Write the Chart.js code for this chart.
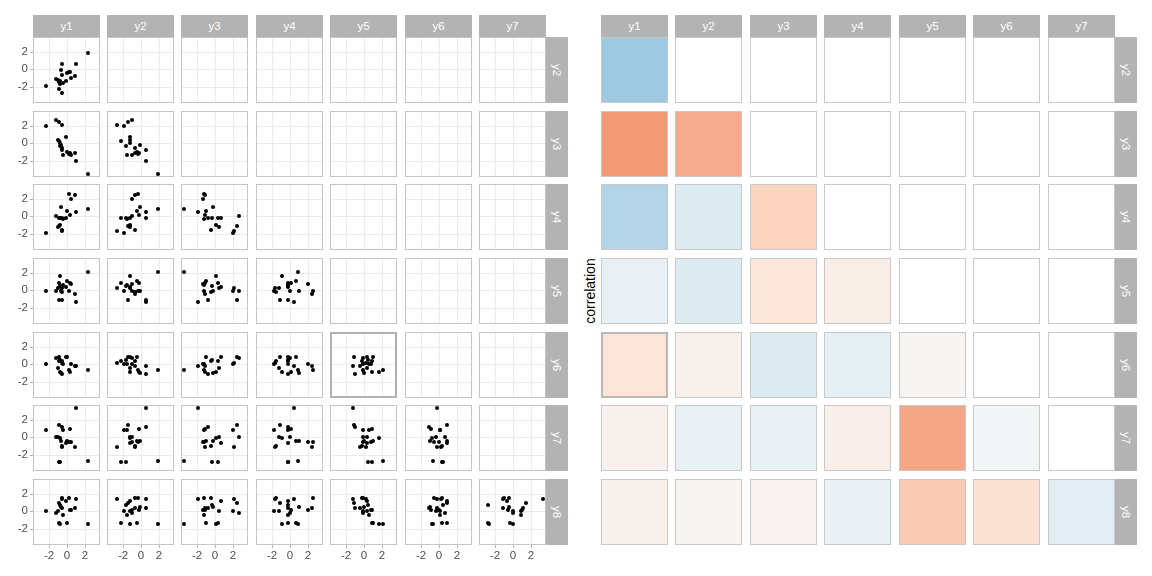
<!DOCTYPE html>
<html><head><meta charset="utf-8">
<script src="https://cdn.jsdelivr.net/npm/chart.js@4.4.1/dist/chart.umd.min.js"></script>
<style>
html,body{margin:0;padding:0;background:#fff;}
#root{position:relative;width:1152px;height:576px;overflow:hidden;font-family:"Liberation Sans",Arial,sans-serif;}
#root canvas{position:absolute;}
.strip{position:absolute;background:#b3b3b3;color:#fff;font-size:11.5px;display:flex;align-items:center;justify-content:center;}
.strip.side span{display:inline-block;transform:rotate(90deg);white-space:nowrap;}
.ytitle{position:absolute;font-size:14px;color:#000;white-space:nowrap;transform:translate(-50%,-50%) rotate(-90deg);}
</style></head><body><div id="root"></div>
<script>
// ---------- data ----------
const colVars = ['y1','y2','y3','y4','y5','y6','y7'];
const rowVars = ['y2','y3','y4','y5','y6','y7','y8'];
const tickValues = [-2, 0, 2];
const axisRange = [-3.87, 3.75];

const y1 = [-2.38,-1.24,-1.06,-0.95,-0.90,-0.84,-0.76,-0.65,-0.58,-0.55,-0.52,-0.50,-0.15,0.02,0.18,0.32,0.44,0.92,1.05,2.36];
const y2 = [-1.92,-1.08,-1.23,-2.31,-1.46,-1.30,-1.69,-0.08,-2.69,-0.69,0.58,-1.54,-1.31,-0.42,-0.30,-0.27,-1.00,-0.73,0.58,1.92];
const y3 = [2.05,2.67,0.40,0.30,2.45,0.10,-0.30,-0.20,2.16,-0.50,-0.75,-1.28,0.70,-1.00,-1.20,-1.15,-1.35,-1.10,-1.98,-3.50];
const y4 = [-1.85,0.04,-1.23,-0.20,-1.10,-0.96,-0.20,1.04,-1.73,-1.54,-0.20,-0.25,-0.22,0.65,2.60,0.15,2.00,2.46,0.46,0.85];
const y5 = [-0.10,-0.10,0.30,0.92,-1.10,1.70,0.50,-0.04,0.23,-0.23,-1.08,0.60,0.38,1.04,-0.10,0.92,0.77,-0.46,-1.30,2.15];
const y6 = [0.08,0.70,-0.38,0.38,0.85,-0.85,0.46,-1.00,0.19,0.35,-1.12,0.08,0.85,0.85,-0.58,-0.92,0.04,-0.19,-0.23,-0.65];
const y7 = [0.90,0.00,0.05,-2.80,1.44,-0.05,-2.80,-0.42,-1.10,-1.00,1.16,0.86,-0.65,-0.35,-0.50,1.00,-0.55,-1.10,3.45,-2.70];
const y8 = [0.03,-0.20,0.00,-1.32,1.00,-1.40,0.80,0.55,1.45,1.55,0.35,-0.35,1.16,-1.30,1.50,0.15,0.22,0.45,1.40,-1.44];
const series = {y1, y2, y3, y4, y5, y6, y7, y8};

// correlation (row variable vs column variable), lower triangle
const corrY2 = [0.49];
const corrY3 = [-0.60,-0.53];
const corrY4 = [0.43,0.23,-0.36];
const corrY5 = [0.13,0.23,-0.20,-0.11];
const corrY6 = [-0.21,-0.08,0.23,0.15,-0.04];
const corrY7 = [-0.07,0.12,0.12,-0.09,-0.55,0.04];
const corrY8 = [-0.06,-0.04,-0.05,0.12,-0.40,-0.24,0.18];
const correlations = [corrY2, corrY3, corrY4, corrY5, corrY6, corrY7, corrY8];

// ---------- layout / style ----------
const FONT = '"Liberation Sans", Arial, sans-serif';
const LEFT_X = 32.5, RIGHT_X = 601, PITCH_X = 74.45, PW = 67;
const TOP_Y = 37, PITCH_Y = 73.65, PH = 66;
const STRIP = 22;
const HL_ROW = 4, HL_COL_SCATTER = 4, HL_COL_CORR = 0;
const palette = [[-1,[178,24,43]],[-2/3,[239,138,98]],[-1/3,[253,219,199]],[0,[247,247,247]],[1/3,[209,229,240]],[2/3,[103,169,207]],[1,[33,102,172]]];
function rdbu(v){
  for (let i=0;i<palette.length-1;i++){
    const [a,ca]=palette[i],[b,cb]=palette[i+1];
    if (v>=a && v<=b){
      const f=(v-a)/(b-a);
      return 'rgb('+ca.map((c,k)=>Math.round(c+(cb[k]-c)*f)).join(',')+')';
    }
  }
  return '#f7f7f7';
}

const root = document.getElementById('root');
const framePlugin = {
  id:'frame',
  afterDraw(chart, args, opts){
    const a = chart.chartArea, ctx = chart.ctx, w = opts.width || 1, o = w/2;
    ctx.save();
    ctx.strokeStyle = opts.color || '#c4c4c4';
    ctx.lineWidth = w;
    ctx.strokeRect(a.left+o, a.top+o, a.right-a.left-w, a.bottom-a.top-w);
    ctx.restore();
  }
};

function px(v){ return Math.round(v); }

function addStrip(x, y, w, h, text, side){
  const d = document.createElement('div');
  d.className = 'strip' + (side ? ' side' : '');
  d.style.left = x+'px'; d.style.top = y+'px'; d.style.width = w+'px'; d.style.height = h+'px';
  const s = document.createElement('span'); s.textContent = text; d.appendChild(s);
  root.appendChild(d);
}

function scatterPanel(ci, ri){
  const x0 = px(LEFT_X + ci*PITCH_X), y0 = px(TOP_Y + ri*PITCH_Y);
  const showY = ci === 0, showX = ri === rowVars.length-1;
  const padL = showY ? 33 : 0, padB = showX ? 20 : 0;
  const cv = document.createElement('canvas');
  cv.width = PW + padL; cv.height = PH + padB;
  cv.style.left = (x0-padL)+'px'; cv.style.top = y0+'px';
  root.appendChild(cv);
  const xs = series[colVars[ci]], ys = series[rowVars[ri]];
  const pts = (ci <= ri) ? xs.map((v,i)=>({x:v, y:ys[i]})) : [];
  const hl = (ri === HL_ROW && ci === HL_COL_SCATTER);
  const tickFont = {size:11.5, family:FONT};
  new Chart(cv, {
    type:'scatter',
    data:{datasets:[{data:pts, pointRadius:2, pointHoverRadius:2, backgroundColor:'#000', borderWidth:0}]},
    options:{
      responsive:false, animation:false, events:[],
      layout:{padding:0, autoPadding:false},
      plugins:{legend:{display:false}, tooltip:{enabled:false}, frame:{color: hl ? '#b0b0b0' : '#c4c4c4', width: hl ? 2 : 1}},
      scales:{
        x:{type:'linear', min:axisRange[0], max:axisRange[1], alignToPixels:true,
          afterBuildTicks:s=>{ s.ticks = tickValues.map(v=>({value:v})); },
          afterFit:s=>{ s.height = padB; s.paddingLeft = 0; s.paddingRight = 0; },
          grid:{color:'#ebebeb', lineWidth:1, drawTicks:showX, tickLength:3, tickColor:'#b3b3b3'},
          border:{display:false},
          ticks:{display:showX, color:'#4d4d4d', font:tickFont, padding:1, maxRotation:0, autoSkip:false, callback:v=>String(v)}},
        y:{type:'linear', min:axisRange[0], max:axisRange[1], alignToPixels:true,
          afterBuildTicks:s=>{ s.ticks = tickValues.map(v=>({value:v})); },
          afterFit:s=>{ s.width = padL; s.paddingTop = 0; s.paddingBottom = 0; },
          grid:{color:'#ebebeb', lineWidth:1, drawTicks:showY, tickLength:3, tickColor:'#b3b3b3'},
          border:{display:false},
          ticks:{display:showY, color:'#4d4d4d', font:tickFont, padding:2, autoSkip:false, callback:v=>String(v)}}
      }
    },
    plugins:[framePlugin]
  });
}

function corrTile(ci, ri){
  const x0 = px(RIGHT_X + ci*PITCH_X), y0 = px(TOP_Y + ri*PITCH_Y);
  const cv = document.createElement('canvas');
  cv.width = PW; cv.height = PH;
  cv.style.left = x0+'px'; cv.style.top = y0+'px';
  root.appendChild(cv);
  const has = ci <= ri;
  const r = has ? correlations[ri][ci] : null;
  const hl = (ri === HL_ROW && ci === HL_COL_CORR);
  new Chart(cv, {
    type:'bar',
    data:{labels:[colVars[ci]], datasets:[{data: has ? [1] : [null], backgroundColor: has ? rdbu(r) : '#fff',
      barPercentage:1, categoryPercentage:1, borderWidth:0}]},
    options:{
      responsive:false, animation:false, events:[],
      layout:{padding:0, autoPadding:false},
      plugins:{legend:{display:false}, tooltip:{enabled:false}, frame:{color: hl ? '#b8b8b8' : '#c8c8c8', width: hl ? 2 : 1}},
      scales:{x:{display:false}, y:{display:false, min:0, max:1}}
    },
    plugins:[framePlugin]
  });
}

for (let ri=0; ri<rowVars.length; ri++){
  for (let ci=0; ci<colVars.length; ci++){
    scatterPanel(ci, ri);
    corrTile(ci, ri);
  }
}
// strips
colVars.forEach((v,ci)=>{
  addStrip(px(LEFT_X + ci*PITCH_X), 15, PW, STRIP, v, false);
  addStrip(px(RIGHT_X + ci*PITCH_X), 15, PW, STRIP, v, false);
});
rowVars.forEach((v,ri)=>{
  const y0 = px(TOP_Y + ri*PITCH_Y);
  addStrip(px(LEFT_X + 6*PITCH_X) + PW, y0, STRIP, PH, v, true);
  addStrip(px(RIGHT_X + 6*PITCH_X) + PW, y0, STRIP, PH, v, true);
});
const t = document.createElement('div');
t.className = 'ytitle'; t.textContent = 'correlation';
t.style.left = '590px'; t.style.top = '291px';
root.appendChild(t);
</script></body></html>
